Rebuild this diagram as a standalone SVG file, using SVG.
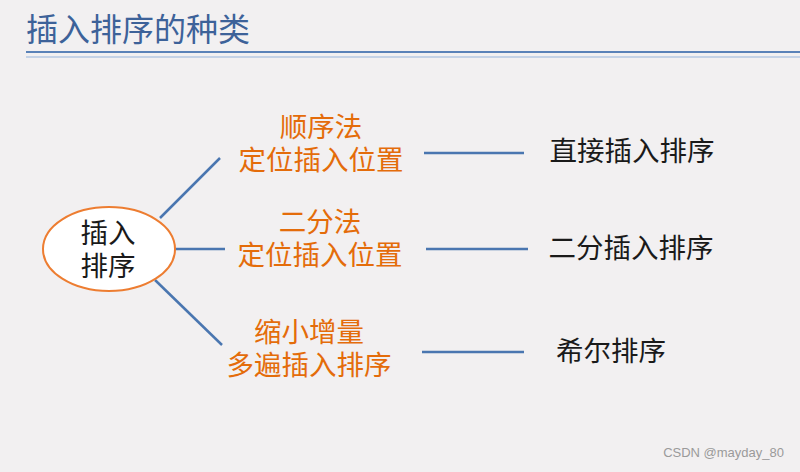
<svg xmlns="http://www.w3.org/2000/svg" width="800" height="472" viewBox="0 0 800 472">
<style>
.cjk{font-family:"Liberation Sans","Noto Sans CJK SC","Noto Sans CJK JP",sans-serif}
.or{fill:#e46c0a;font-size:27.5px;text-anchor:middle}
.bk{fill:#1a1a1a;font-size:27.5px;text-anchor:middle}
.con{stroke:#4a76b0;stroke-width:2.5;fill:none}
</style>
<rect width="800" height="472" fill="#f2f0f1"/>
<g id="title">
<text x="26" y="41" class="cjk" font-size="32" fill="#3d6299">插入排序的种类</text>
<line x1="26" y1="52" x2="800" y2="52" stroke="#5a82b8" stroke-width="2"/>
<line x1="26" y1="57" x2="800" y2="57" stroke="#b4c8e2" stroke-width="1.5"/>
</g>
<g id="connectors">
<line class="con" x1="160" y1="218" x2="220" y2="158"/>
<line class="con" x1="175" y1="249" x2="225" y2="249"/>
<line class="con" x1="155" y1="280" x2="222" y2="345"/>
<line class="con" x1="424" y1="153" x2="524" y2="153"/>
<line class="con" x1="426" y1="249" x2="528" y2="249"/>
<line class="con" x1="422" y1="352" x2="524" y2="352"/>
</g>
<g id="root">
<ellipse cx="109" cy="249" rx="66" ry="42" fill="#ffffff" stroke="#ed7d31" stroke-width="2"/>
<text class="cjk bk" font-size="27"><tspan x="108" y="243">插入</tspan><tspan x="108" y="276">排序</tspan></text>
</g>
<g id="m1">
<text class="cjk or"><tspan x="321" y="137">顺序法</tspan><tspan x="321" y="170">定位插入位置</tspan></text>
</g>
<g id="m2">
<text class="cjk or"><tspan x="320" y="232">二分法</tspan><tspan x="320" y="265">定位插入位置</tspan></text>
</g>
<g id="m3">
<text class="cjk or"><tspan x="309" y="342">缩小增量</tspan><tspan x="309" y="375">多遍插入排序</tspan></text>
</g>
<g id="r1"><text x="632" y="161" class="cjk bk">直接插入排序</text></g>
<g id="r2"><text x="631" y="258" class="cjk bk">二分插入排序</text></g>
<g id="r3"><text x="611" y="361" class="cjk bk">希尔排序</text></g>
<g id="watermark"><text x="784" y="457" text-anchor="end" font-family="Liberation Sans, sans-serif" font-size="13" fill="#9a9a9a">CSDN @mayday_80</text></g>
</svg>
